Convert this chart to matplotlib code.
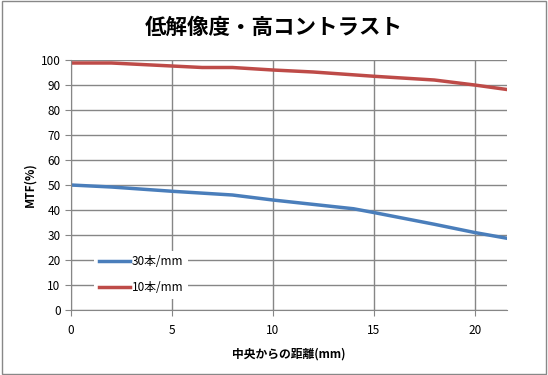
import matplotlib
matplotlib.use('Agg')
from matplotlib import pyplot as plt
from matplotlib.patches import Rectangle

plt.rcParams['font.family'] = ['Noto Sans CJK JP', 'DejaVu Sans']

x_10 = [0, 2, 5, 6.5, 8, 10, 12, 15, 18, 20, 21.6]
mtf_10 = [98.8, 98.8, 97.6, 97.0, 97.0, 96.0, 95.2, 93.5, 92.0, 90.0, 88.2]
x_30 = [0, 2, 5, 8, 10, 14, 15, 18, 20, 21.6]
mtf_30 = [50.0, 49.2, 47.5, 46.0, 44.0, 40.5, 39.0, 34.3, 31.0, 28.7]

grid_c = '#868686'

fig = plt.figure(figsize=(5.48, 3.75), dpi=100)
fig.patches.append(Rectangle((0.003, 0.003), 0.994, 0.994, transform=fig.transFigure,
                             fill=False, edgecolor='#888888', lw=1))
ax = fig.add_axes([0.1296, 0.1733, 0.7954, 0.6667])

ax.plot(x_30, mtf_30, color='#4a7ebb', lw=2.5, label='30本/mm')
ax.plot(x_10, mtf_10, color='#be4b48', lw=2.5, label='10本/mm')

ax.set_xlim(0, 21.6)
ax.set_ylim(0, 100)
ax.set_xticks([0, 5, 10, 15, 20])
ax.set_yticks(range(0, 101, 10))
ax.grid(True, color=grid_c, lw=1)
ax.set_axisbelow(True)
for s in ['top', 'right']:
    ax.spines[s].set_visible(False)
for s in ['left', 'bottom']:
    ax.spines[s].set_color(grid_c)
ax.tick_params(colors=grid_c, labelcolor='black', labelsize=8.5, length=4)
ax.tick_params(axis='x', pad=6)

ax.set_xlabel('中央からの距離(mm)', fontsize=8.5, fontweight='bold', labelpad=8)
ax.set_ylabel('MTF(%)', fontsize=8.5, fontweight='bold', labelpad=3)
fig.text(0.5, 0.927, '低解像度・高コントラスト', ha='center', va='center',
         fontsize=15.5, fontweight='bold')

leg = ax.legend(loc='lower left', bbox_to_anchor=(0.04, 0.02), frameon=True,
                fontsize=8.5, handlelength=2.6, handletextpad=0.2, labelspacing=1.1,
                borderpad=0.4)
leg.get_frame().set_edgecolor('none')
leg.get_frame().set_facecolor('white')
leg.get_frame().set_alpha(1)

fig.savefig('out.png', dpi=100)
